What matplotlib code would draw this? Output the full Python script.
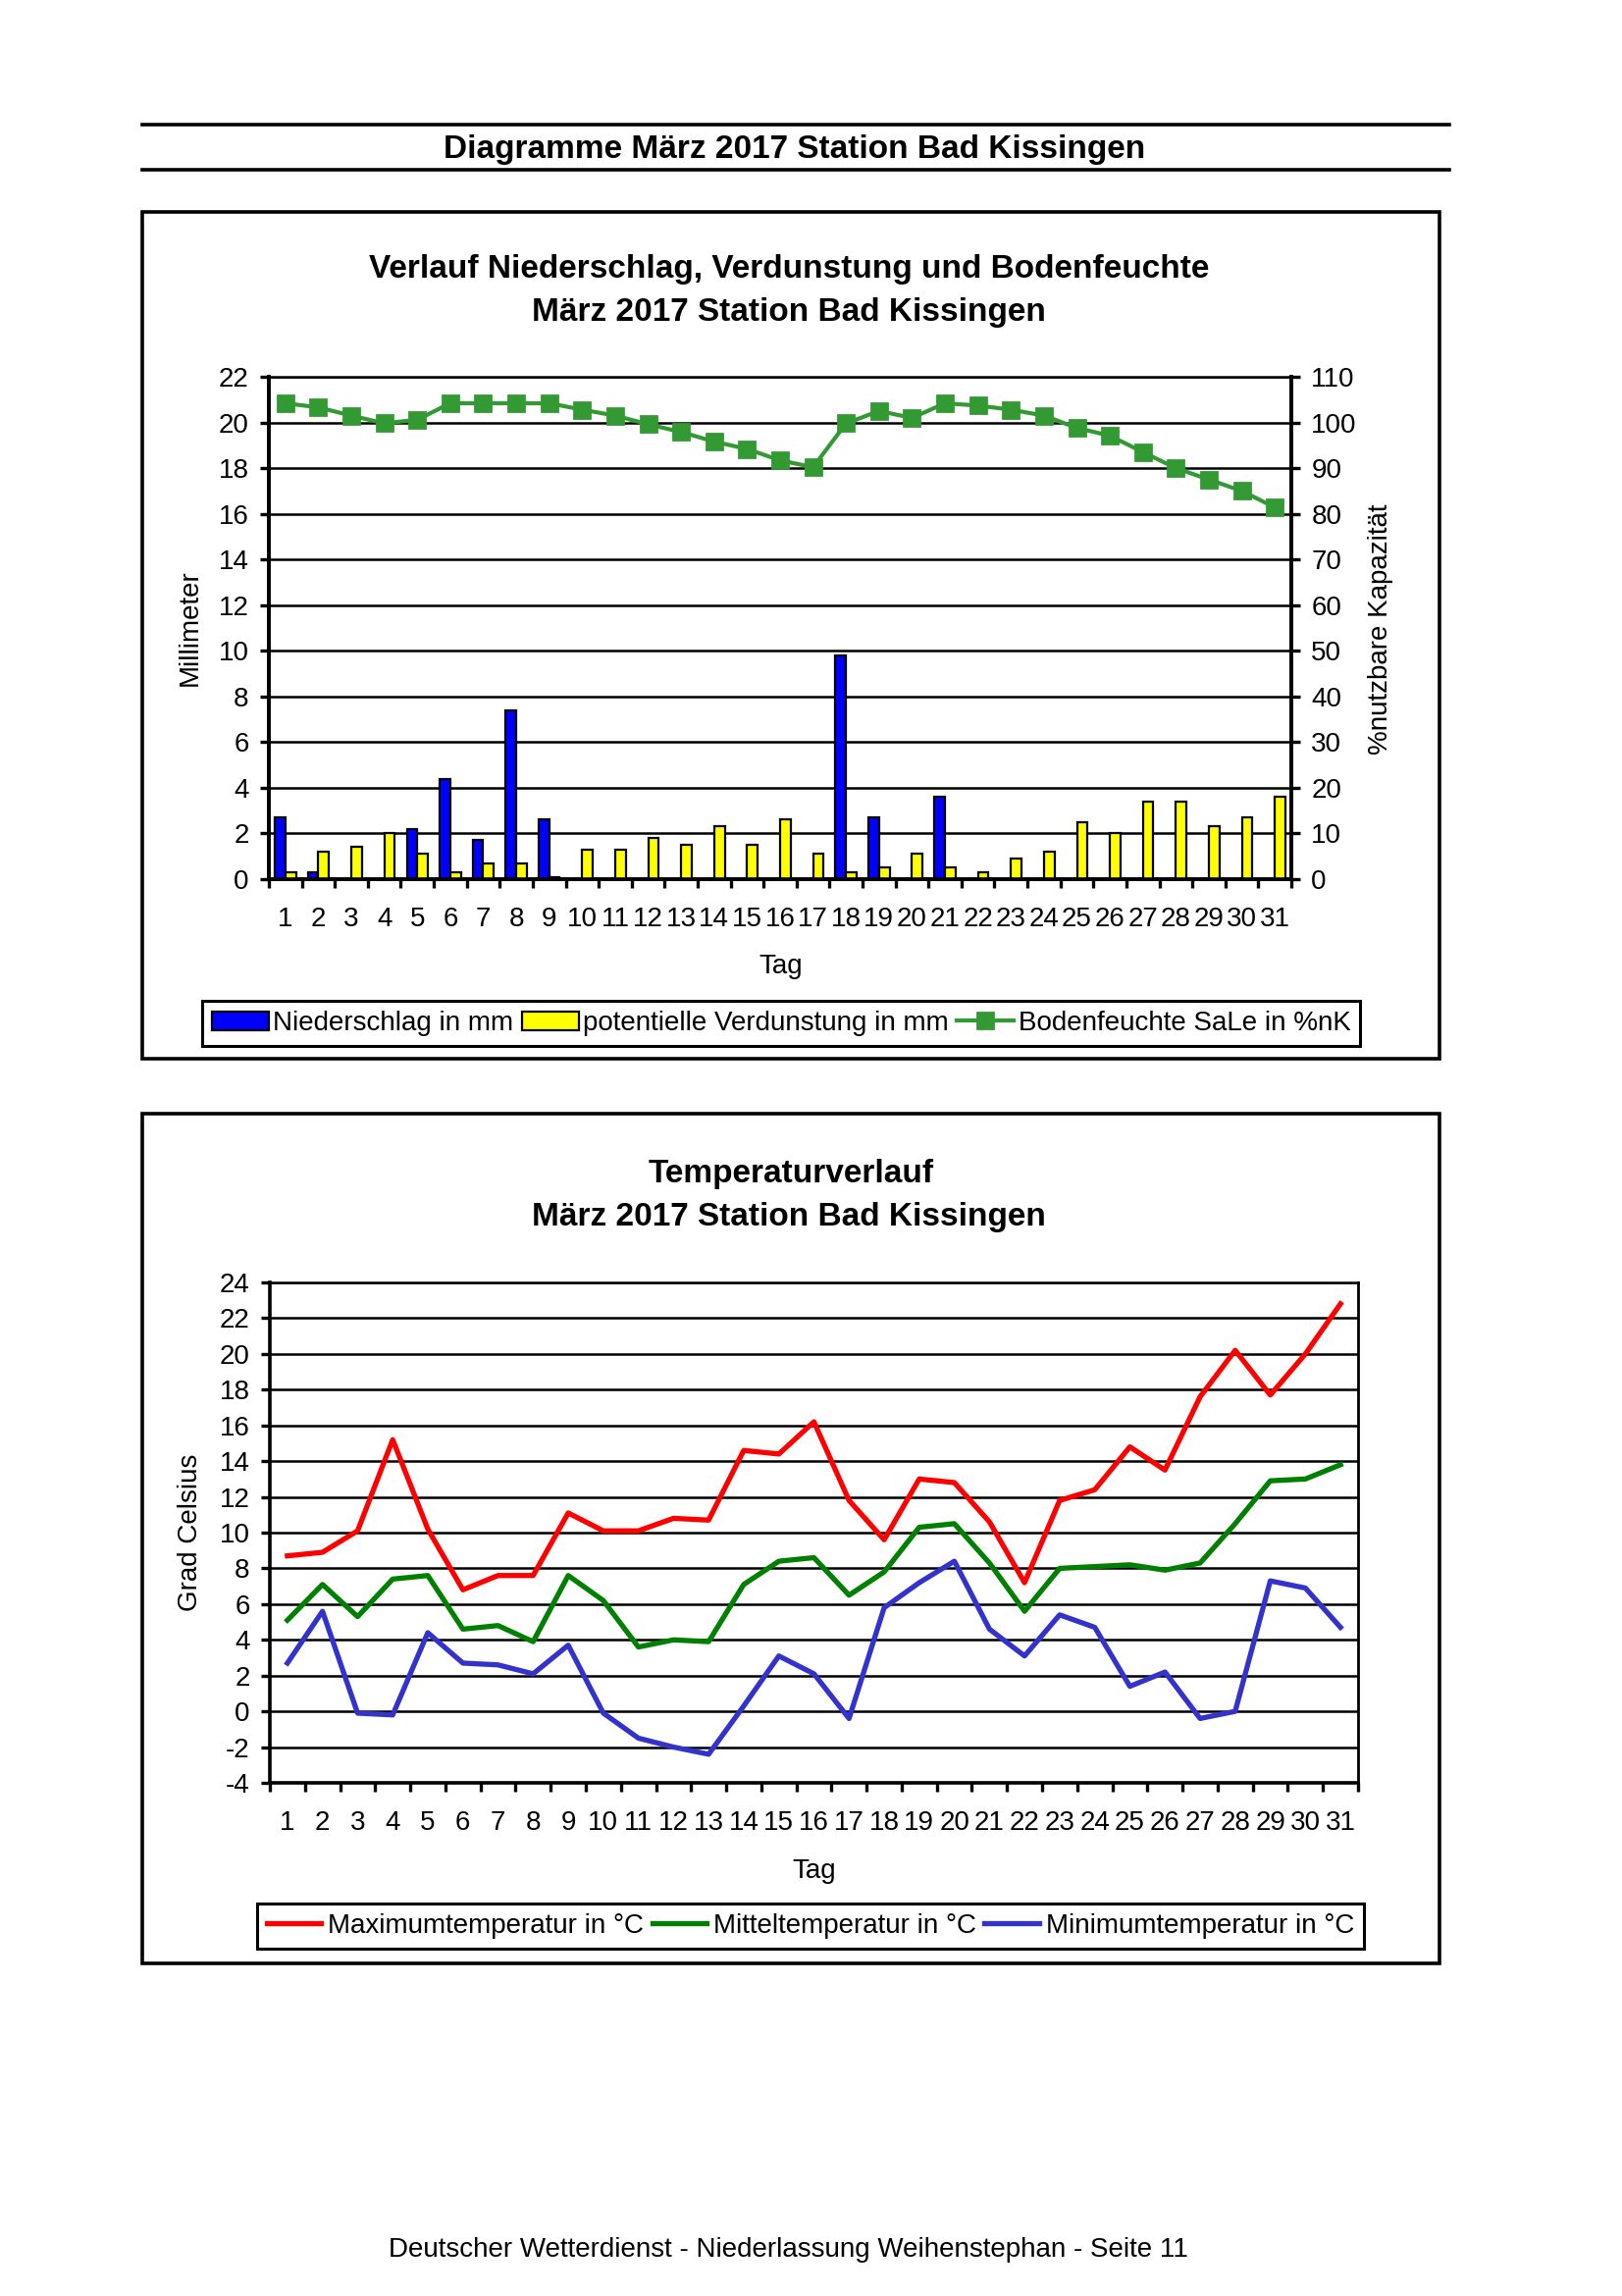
#!/usr/bin/env python3

import numpy as np
import matplotlib.pyplot as plt
from matplotlib.lines import Line2D
from matplotlib.patches import Rectangle, Patch

plt.rcParams['font.family'] = ['Liberation Sans', 'DejaVu Sans']
plt.rcParams['axes.unicode_minus'] = False

W, H = 1653, 2340

# Daten Maerz 2017, Station Bad Kissingen
days = np.arange(1, 32)
niederschlag = [2.7, 0.3, 0, 0, 2.2, 4.4, 1.7, 7.4, 2.6, 0, 0, 0, 0, 0, 0, 0,
                0, 9.8, 2.7, 0, 3.6, 0, 0, 0, 0, 0, 0, 0, 0, 0, 0]
verdunstung = [0.3, 1.2, 1.4, 2.0, 1.1, 0.3, 0.7, 0.7, 0.1, 1.3, 1.3, 1.8, 1.5,
               2.3, 1.5, 2.6, 1.1, 0.3, 0.5, 1.1, 0.5, 0.3, 0.9, 1.2, 2.5, 2.0,
               3.4, 3.4, 2.3, 2.7, 3.6]
bodenfeuchte = [104.2, 103.3, 101.5, 99.8, 100.6, 104.2, 104.2, 104.2, 104.2,
                102.8, 101.5, 99.6, 97.9, 95.8, 94.2, 91.7, 90.2, 99.8, 102.5,
                101.0, 104.2, 103.7, 102.8, 101.5, 98.8, 97.1, 93.5, 90.0, 87.5,
                85.0, 81.4]
t_max = [8.7, 8.9, 10.1, 15.2, 10.2, 6.8, 7.6, 7.6, 11.1, 10.1, 10.1, 10.8,
         10.7, 14.6, 14.4, 16.2, 11.8, 9.6, 13.0, 12.8, 10.6, 7.2, 11.8, 12.4,
         14.8, 13.5, 17.6, 20.2, 17.7, 20.0, 22.8]
t_mittel = [5.1, 7.1, 5.3, 7.4, 7.6, 4.6, 4.8, 3.9, 7.6, 6.2, 3.6, 4.0, 3.9,
            7.1, 8.4, 8.6, 6.5, 7.8, 10.3, 10.5, 8.3, 5.6, 8.0, 8.1, 8.2, 7.9,
            8.3, 10.5, 12.9, 13.0, 13.8]
t_min = [2.7, 5.6, -0.1, -0.2, 4.4, 2.7, 2.6, 2.1, 3.7, -0.1, -1.5, -2.0, -2.4,
         0.3, 3.1, 2.1, -0.4, 5.8, 7.2, 8.4, 4.6, 3.1, 5.4, 4.7, 1.4, 2.2, -0.4,
         0.0, 7.3, 6.9, 4.7]


def fx(px):
    return px / W


def fy(py):
    return 1 - py / H


def style_axis(ax, ylim, ystep):
    ax.set_xlim(0.5, 31.5)
    ax.set_ylim(*ylim)
    ax.set_yticks(np.arange(ylim[0], ylim[1] + 1, ystep))
    ax.set_xticks(days)
    ax.set_xticklabels([str(d) for d in days])
    ax.set_xticks(np.arange(0.5, 32, 1), minor=True)
    ax.tick_params(axis='x', which='major', length=0, pad=10, labelsize=10)
    ax.tick_params(axis='x', which='minor', length=3.3, width=1.2)
    ax.tick_params(axis='y', length=3.3, width=1.2, pad=4, labelsize=10)
    ax.grid(axis='y', color='black', lw=0.9)
    ax.set_axisbelow(True)
    for s in ax.spines.values():
        s.set_linewidth(1.3)
    ax.spines['top'].set_linewidth(0.9)


fig = plt.figure(figsize=(W / 200, H / 200), dpi=200)

# Seitenkopf
for y in (127, 173):
    fig.add_artist(Line2D([fx(145), fx(1477)], [fy(y), fy(y)], color='black', lw=1.3))
fig.text(fx(810), fy(153), 'Diagramme März 2017 Station Bad Kissingen',
         ha='center', va='center', fontsize=12, fontweight='bold')

# Rahmen
for top, bot in ((216, 1079), (1135, 2001)):
    fig.add_artist(Rectangle((fx(145), fy(bot)), fx(1467) - fx(145), fy(top) - fy(bot),
                             fill=False, lw=1.3, ec='black'))

# --- Niederschlag / Verdunstung / Bodenfeuchte ---
fig.text(fx(804), fy(275), 'Verlauf Niederschlag, Verdunstung und Bodenfeuchte',
         ha='center', va='center', fontsize=12, fontweight='bold')
fig.text(fx(804), fy(318), 'März 2017 Station Bad Kissingen',
         ha='center', va='center', fontsize=12, fontweight='bold')

ax1 = fig.add_axes([fx(274), fy(896), fx(1316) - fx(274), fy(384) - fy(896)])
ax1.bar(days - 0.16, niederschlag, width=0.32, color='#0000ff', edgecolor='black', lw=0.8, zorder=3)
ax1.bar(days + 0.16, verdunstung, width=0.32, color='#ffff00', edgecolor='black', lw=0.8, zorder=3)
style_axis(ax1, (0, 22), 2)

ax2 = ax1.twinx()
ax2.plot(days, bodenfeuchte, color='#339933', marker='s', ms=5.5, lw=1.5)
ax2.set_ylim(0, 110)
ax2.set_yticks(np.arange(0, 111, 10))
ax2.tick_params(axis='y', length=3.3, width=1.2, pad=4, labelsize=10)
for s in ax2.spines.values():
    s.set_linewidth(1.3)
ax2.spines['top'].set_visible(False)

fig.text(fx(194), fy(640), 'Millimeter', rotation=90, ha='center', va='center', fontsize=10)
fig.text(fx(1407), fy(641), '%nutzbare Kapazität', rotation=90, ha='center', va='center', fontsize=10)
fig.text(fx(796), fy(985), 'Tag', ha='center', va='center', fontsize=10)

handles1 = [Patch(facecolor='#0000ff', edgecolor='black', lw=0.8),
            Patch(facecolor='#ffff00', edgecolor='black', lw=0.8),
            Line2D([], [], color='#339933', marker='s', ms=5.5, lw=1.5)]
leg1 = fig.legend(handles1, ['Niederschlag in mm', 'potentielle Verdunstung in mm',
                             'Bodenfeuchte SaLe in %nK'],
                  loc='center', bbox_to_anchor=(fx(796), fy(1043)), ncol=3, fontsize=10,
                  frameon=True, fancybox=False, edgecolor='black', framealpha=1,
                  handlelength=2.1, handletextpad=0.15, columnspacing=0.3, borderpad=0.35)
leg1.get_frame().set_linewidth(1.1)

# --- Temperaturverlauf ---
fig.text(fx(806), fy(1196), 'Temperaturverlauf',
         ha='center', va='center', fontsize=12, fontweight='bold')
fig.text(fx(804), fy(1240), 'März 2017 Station Bad Kissingen',
         ha='center', va='center', fontsize=12, fontweight='bold')

ax3 = fig.add_axes([fx(275), fy(1817), fx(1384) - fx(275), fy(1307) - fy(1817)])
ax3.plot(days, t_max, color='#ff0000', lw=1.9)
ax3.plot(days, t_mittel, color='#008000', lw=1.9)
ax3.plot(days, t_min, color='#3333cc', lw=1.9)
style_axis(ax3, (-4, 24), 2)
ax3.spines['right'].set_linewidth(1.0)

fig.text(fx(194), fy(1562), 'Grad Celsius', rotation=90, ha='center', va='center', fontsize=10)
fig.text(fx(830), fy(1907), 'Tag', ha='center', va='center', fontsize=10)

handles2 = [Line2D([], [], color='#ff0000', lw=1.9),
            Line2D([], [], color='#008000', lw=1.9),
            Line2D([], [], color='#3333cc', lw=1.9)]
leg2 = fig.legend(handles2, ['Maximumtemperatur in °C', 'Mitteltemperatur in °C',
                             'Minimumtemperatur in °C'],
                  loc='center', bbox_to_anchor=(fx(826), fy(1963)), ncol=3, fontsize=10,
                  frameon=True, fancybox=False, edgecolor='black', framealpha=1,
                  handlelength=2.0, handletextpad=0.25, columnspacing=0.3, borderpad=0.35)
leg2.get_frame().set_linewidth(1.1)

# Fusszeile
fig.text(fx(803), fy(2293), 'Deutscher Wetterdienst - Niederlassung Weihenstephan - Seite 11',
         ha='center', va='center', fontsize=10)

fig.savefig('out.png', dpi=200)
